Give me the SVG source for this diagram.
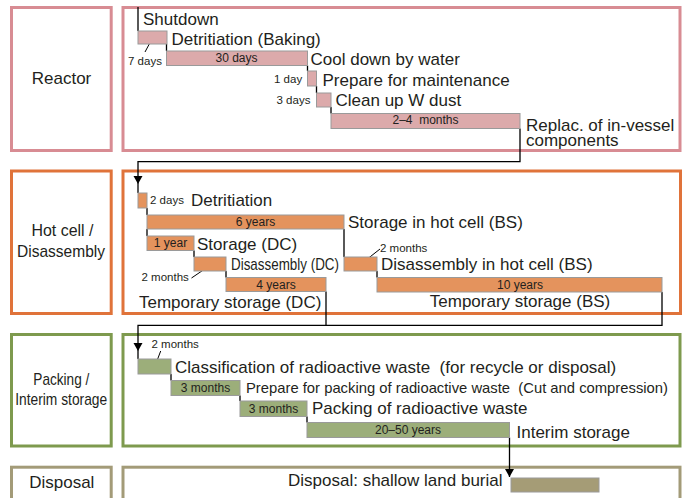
<svg xmlns="http://www.w3.org/2000/svg" width="685" height="498" viewBox="0 0 685 498">
<defs>
<style>
text{font-family:"Liberation Sans",Arial,Helvetica,sans-serif;fill:#231f20;}
.lg{font-size:17px;}
.sm{font-size:11.5px;}
.bl{font-size:12px;text-anchor:middle;}
.mid{text-anchor:middle;}
.pre{white-space:pre;}
.frame{fill:#fff;stroke-width:3;}
.pk{stroke:#d88c93;}
.or{stroke:#e0733a;}
.gr{stroke:#7e9a4e;}
.kh{stroke:#a39b78;}
.bar{stroke:#9a9a9a;stroke-width:1;}
.bpk{fill:#dcaaab;}
.bor{fill:#e4935d;}
.bgr{fill:#9cae7a;}
.bkh{fill:#a59c76;}
.ln{fill:none;stroke:#000;stroke-width:1.3;}
.ptr{fill:none;stroke:#000;stroke-width:1;}
</style>
<marker id="arr" markerUnits="userSpaceOnUse" markerWidth="10" markerHeight="10" refX="8" refY="4.5" orient="auto">
<path d="M0,0 L8,4.5 L0,9 z" fill="#000"/>
</marker>
</defs>

<g id="reactor">
<rect class="frame pk" x="11.5" y="7.5" width="99.7" height="143"/>
<text class="lg mid" x="61.5" y="84">Reactor</text>
<rect class="frame pk" x="123" y="7.5" width="557" height="143"/>
</g>
<g id="hotcell">
<rect class="frame or" x="11.5" y="171" width="99.7" height="142.5"/>
<text class="lg mid" x="62.5" y="236" textLength="62" lengthAdjust="spacingAndGlyphs">Hot cell /</text>
<text class="lg mid" x="61" y="256.5" textLength="88" lengthAdjust="spacingAndGlyphs">Disassembly</text>
<rect class="frame or" x="123" y="171" width="557.5" height="142.5"/>
</g>
<g id="packing">
<rect class="frame gr" x="11.5" y="334.5" width="99.7" height="111.5"/>
<text class="lg mid" x="61.3" y="385" textLength="56" lengthAdjust="spacingAndGlyphs">Packing /</text>
<text class="lg mid" x="61.2" y="405" textLength="92" lengthAdjust="spacingAndGlyphs">Interim storage</text>
<rect class="frame gr" x="123" y="334.5" width="557" height="111.5"/>
</g>
<g id="disposal">
<rect class="frame kh" x="11.5" y="467.2" width="99.7" height="50"/>
<text class="lg mid" x="61.8" y="488.3">Disposal</text>
<rect class="frame kh" x="123" y="467.2" width="557" height="50"/>
</g>

<g id="connectors">
<path class="ln" d="M520,128.5 V161.7 H138 V184" marker-end="url(#arr)"/>
<path class="ln" d="M662,292 V325.3 H138 V351" marker-end="url(#arr)"/>
<path class="ln" d="M326,291.5 V325.3"/>
<path class="ln" d="M509.5,437.5 V477" marker-end="url(#arr)"/>
<!-- step lines -->
<path class="ln" d="M138,7 V31 M166.5,44 V51 M307.5,65.5 V71 M316.5,86 V93 M331,107 V113.5"/>
<path class="ln" d="M138,184 V193 M147,208 V215 M147,229 V236 M344,229 V257 M194,250.5 V257 M226,271 V277.5 M377,271 V277.5"/>
<path class="ln" d="M138,351 V359 M171,374 V380.5 M240,395.5 V401 M307,416.5 V422.5"/>
<!-- pointers -->
<path class="ptr" d="M152.5,38 L145,52 M210.7,265 L191.5,278 M380,249 L361,264 M160.7,351 L155,366"/>
</g>

<g id="reactor-tasks">
<rect class="bar bpk" x="138" y="31" width="29" height="13"/>
<rect class="bar bpk" x="166.5" y="51" width="141" height="14.5"/>
<rect class="bar bpk" x="307.5" y="71" width="9" height="15"/>
<rect class="bar bpk" x="316.5" y="93" width="14.5" height="14"/>
<rect class="bar bpk" x="331" y="113.5" width="189" height="15"/>
<text class="lg" x="143" y="25">Shutdown</text>
<text class="lg" x="171.5" y="45">Detritiation (Baking)</text>
<text class="sm" x="128" y="65">7 days</text>
<text class="bl" x="236.5" y="61.5">30 days</text>
<text class="lg" x="310.5" y="65">Cool down by water</text>
<text class="sm" x="274" y="82.5">1 day</text>
<text class="lg" x="322.5" y="86">Prepare for maintenance</text>
<text class="sm" x="276.5" y="103.5">3 days</text>
<text class="lg" x="335.5" y="106">Clean up W dust</text>
<text class="bl pre" x="425.5" y="124">2–4  months</text>
<text class="lg" x="526" y="131">Replac. of in-vessel</text>
<text class="lg" x="526" y="146">components</text>
</g>

<g id="hotcell-tasks">
<rect class="bar bor" x="138" y="193" width="9" height="15"/>
<rect class="bar bor" x="147" y="215" width="197" height="14"/>
<rect class="bar bor" x="147" y="236" width="47" height="14.5"/>
<rect class="bar bor" x="194" y="257" width="32" height="14"/>
<rect class="bar bor" x="226" y="277.5" width="100" height="14"/>
<rect class="bar bor" x="344" y="257" width="33" height="14"/>
<rect class="bar bor" x="377" y="277.5" width="285" height="14.5"/>
<text class="sm" x="150" y="204">2 days</text>
<text class="lg" x="191" y="206">Detritiation</text>
<text class="bl" x="255.5" y="226">6 years</text>
<text class="lg" x="348" y="228">Storage in hot cell (BS)</text>
<text class="bl" x="170.5" y="246.5">1 year</text>
<text class="lg" x="197" y="250">Storage (DC)</text>
<text class="sm" x="141.5" y="281">2 months</text>
<text class="lg" x="231" y="270" textLength="108" lengthAdjust="spacingAndGlyphs">Disassembly (DC)</text>
<text class="bl" x="276" y="289">4 years</text>
<text class="lg" x="139" y="308">Temporary storage (DC)</text>
<text class="sm" x="380" y="251.5">2 months</text>
<text class="lg" x="381" y="270">Disassembly in hot cell (BS)</text>
<text class="bl" x="520" y="289">10 years</text>
<text class="lg mid" x="520" y="306.5">Temporary storage (BS)</text>
</g>

<g id="packing-tasks">
<rect class="bar bgr" x="138" y="359" width="33" height="15"/>
<rect class="bar bgr" x="171" y="380.5" width="69" height="15"/>
<rect class="bar bgr" x="240" y="401" width="67" height="15.5"/>
<rect class="bar bgr" x="307" y="422.5" width="202.5" height="15"/>
<text class="sm" x="151.5" y="347.5">2 months</text>
<text class="lg pre" x="175" y="372.5">Classification of radioactive waste  (for recycle or disposal)</text>
<text class="bl" x="205.5" y="391.5">3 months</text>
<text class="pre" style="font-size:15px" x="246" y="393" textLength="422" lengthAdjust="spacingAndGlyphs">Prepare for packing of radioactive waste  (Cut and compression)</text>
<text class="bl" x="273.5" y="412.5">3 months</text>
<text class="lg" x="312" y="414">Packing of radioactive waste</text>
<text class="bl" x="408" y="433.5">20–50 years</text>
<text class="lg" x="516.5" y="438">Interim storage</text>
</g>

<g id="disposal-tasks">
<rect class="bar bkh" x="511" y="478" width="88" height="14"/>
<text class="lg" x="288" y="485.5">Disposal: shallow land burial</text>
</g>
</svg>
